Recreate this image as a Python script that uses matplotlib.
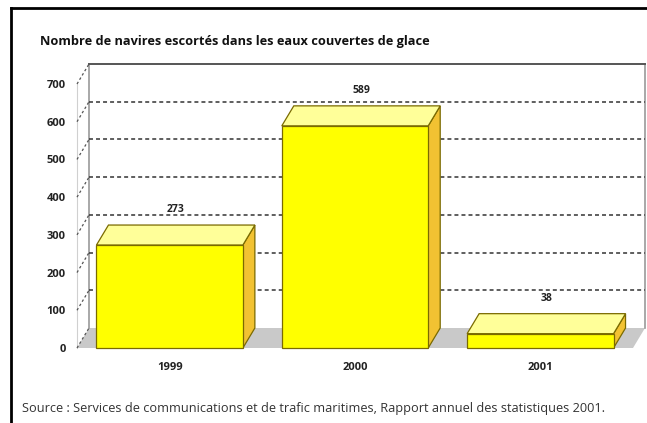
import matplotlib
matplotlib.use("Agg")
import matplotlib.pyplot as plt
from matplotlib.patches import Rectangle, Polygon
from matplotlib.lines import Line2D

# Data
years = ["1999", "2000", "2001"]
ships = [273, 589, 38]
yticks = [0, 100, 200, 300, 400, 500, 600, 700]
title = "Nombre de navires escortés dans les eaux couvertes de glace"
source = ("Source : Services de communications et de trafic maritimes, "
          "Rapport annuel des statistiques 2001.")

FONT = ["Liberation Sans Narrow", "Open Sans", "DejaVu Sans"]
plt.rcParams["font.family"] = FONT

W, H, DPI = 6.47, 4.23, 100
fig = plt.figure(figsize=(W, H), dpi=DPI)
fig.patch.set_facecolor("white")

# axes frame = front plane of the 3D box (pixels: x 77..633, y 84..348)
left, right, top, bottom = 77, 633, 84, 348
ax = fig.add_axes([left / 647, 1 - bottom / 423,
                   (right - left) / 647, (bottom - top) / 423])
xmin, xmax, ymin, ymax = -0.5, 2.5, 0, 700
ax.set_xlim(xmin, xmax)
ax.set_ylim(ymin, ymax)
for s in ax.spines.values():
    s.set_visible(False)
ax.patch.set_visible(False)

# depth offset of the box, in pixels, turned into data units
dx_px, dy_px = 12, 20
dxd = dx_px * (xmax - xmin) / (right - left)
dyd = dy_px * (ymax - ymin) / (bottom - top)

# floor
ax.add_patch(Polygon([(xmin, 0), (xmax, 0), (xmax + dxd, dyd), (xmin + dxd, dyd)],
                     closed=True, facecolor="#c9c9c9", edgecolor="none",
                     zorder=1, clip_on=False))

# back wall borders
wall_col = "#9a9a9a"
ax.add_line(Line2D([xmin + dxd, xmin + dxd], [dyd, ymax + dyd], color=wall_col,
                   lw=1.2, zorder=2, clip_on=False))
ax.add_line(Line2D([xmax + dxd, xmax + dxd], [dyd, ymax + dyd], color=wall_col,
                   lw=1.2, zorder=2, clip_on=False))
ax.add_line(Line2D([xmin + dxd, xmax + dxd], [ymax + dyd, ymax + dyd],
                   color="#555555", lw=1.4, zorder=2, clip_on=False))
ax.add_line(Line2D([xmin, xmin], [0, ymax], color="#d0d0d0", lw=0.8,
                   zorder=2, clip_on=False))

# gridlines on back wall and side wall
for v in yticks[1:-1]:
    ax.add_line(Line2D([xmin + dxd, xmax + dxd], [v + dyd, v + dyd],
                       color="#333333", lw=1.1, ls=(0, (2.6, 2)), zorder=2,
                       clip_on=False))
for v in yticks:
    ax.add_line(Line2D([xmin, xmin + dxd], [v, v + dyd], color="#555555",
                       lw=0.9, ls=(0, (2, 2)), zorder=2, clip_on=False))

# 3D bars
bw = 0.79
edge = "#7a6a00"
for i, v in enumerate(ships):
    x0, x1 = i - bw / 2, i + bw / 2
    ax.add_patch(Polygon([(x1, 0), (x1 + dxd, dyd), (x1 + dxd, v + dyd), (x1, v)],
                         closed=True, facecolor="#f2c232", edgecolor=edge,
                         lw=0.9, zorder=3, clip_on=False))
    ax.add_patch(Polygon([(x0, v), (x1, v), (x1 + dxd, v + dyd), (x0 + dxd, v + dyd)],
                         closed=True, facecolor="#ffff99", edgecolor=edge,
                         lw=0.9, zorder=3, clip_on=False))
    ax.add_patch(Rectangle((x0, 0), bw, v, facecolor="#ffff00", edgecolor=edge,
                           lw=0.9, zorder=4, clip_on=False))
    ax.text(i + dxd / 2, v + dyd + 26, str(v), ha="center", va="bottom",
            fontsize=7.5, fontweight="bold", color="#222222", zorder=5)

ax.set_yticks(yticks)
ax.set_yticklabels([str(t) for t in yticks], fontsize=8, fontweight="bold",
                   color="#222222")
ax.set_xticks(range(len(years)))
ax.set_xticklabels(years, fontsize=8, fontweight="bold", color="#222222")
ax.tick_params(axis="y", length=0, pad=8)
ax.tick_params(axis="x", length=0, pad=10)

# title and source
fig.text(40 / 647, 1 - 42 / 423, title, ha="left", va="center",
         fontsize=9.2, fontweight="bold", color="#111111")
fig.text(22 / 647, 1 - 408 / 423, source, ha="left", va="center",
         fontsize=9.2, color="#333333")

# outer frame (top and left edges)
fig.add_artist(Line2D([11 / 647, 1], [1 - 8 / 423, 1 - 8 / 423],
                      transform=fig.transFigure, color="black", lw=2))
fig.add_artist(Line2D([11 / 647, 11 / 647], [0, 1 - 8 / 423],
                      transform=fig.transFigure, color="black", lw=2))

fig.savefig("out.png", dpi=DPI, facecolor="white")
